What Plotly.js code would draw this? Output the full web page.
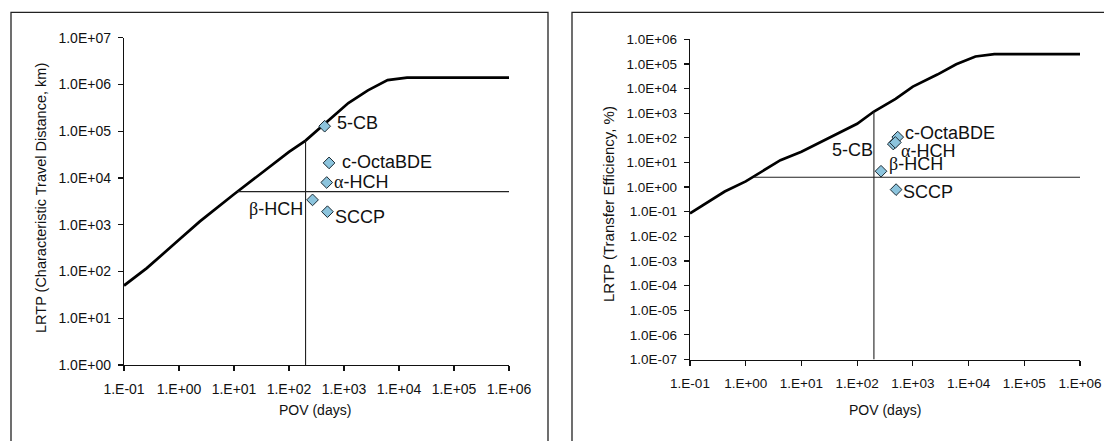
<!DOCTYPE html>
<html>
<head>
<meta charset="utf-8">
<script src="https://cdn.plot.ly/plotly-3.0.1.min.js"></script>
<style>
  html, body { margin: 0; padding: 0; background: #fff; }
  #chart { width: 1104px; height: 441px; }
</style>
</head>
<body>
<div id="chart"></div>
<script>
// Persistence (POV) versus long-range transport potential (LRTP) for five chemicals.

// Chemical names and their persistence, days
const chemicals = ['5-CB', 'c-OctaBDE', 'α-HCH', 'β-HCH', 'SCCP'];
const povDays = [445, 535, 485, 268, 500];

// LRTP as characteristic travel distance, km
const ctdKm = [1.28e5, 2.1e4, 8000, 3400, 1900];
// LRTP as transfer efficiency, %
const tePercent = [56, 107, 65, 4.4, 0.79];

// Reference (limit) curve: characteristic travel distance
const refPovCtd = [0.1, 0.26, 1, 2.4, 10, 19.5, 100, 200, 1200, 2720, 6200, 14000, 1e6];
const refCtd = [50, 118, 475, 1180, 4500, 8200, 36000, 63000, 4.0e5, 7.5e5, 1.24e6, 1.4e6, 1.4e6];

// Reference (limit) curve: transfer efficiency
const refPovTe = [0.1, 0.42, 1, 4.2, 10, 56, 100, 200, 490, 1000, 2750, 6000, 13300, 29000, 1e6];
const refTe = [0.085, 0.66, 1.7, 12.4, 27, 200, 370, 1170, 3800, 1.2e4, 3.7e4, 9.7e4, 2.0e5, 2.5e5, 2.5e5];

// Threshold lines (POV cut-off and LRTP cut-off)
const povCutoff = 200;
const ctdCutoff = 5100, ctdCutoffStart = 11.5, ctdAtCutoff = 63000;
const teCutoff = 2.5, teCutoffStart = 1.4, teAtCutoff = 1170;

// Tick labels
const povTicks = ['1.E-01', '1.E+00', '1.E+01', '1.E+02', '1.E+03', '1.E+04', '1.E+05', '1.E+06'];
const ctdTicks = ['1.0E+00', '1.0E+01', '1.0E+02', '1.0E+03', '1.0E+04', '1.0E+05', '1.0E+06', '1.0E+07'];
const teTicks = ['1.0E-07', '1.0E-06', '1.0E-05', '1.0E-04', '1.0E-03', '1.0E-02', '1.0E-01',
                 '1.0E+00', '1.0E+01', '1.0E+02', '1.0E+03', '1.0E+04', '1.0E+05', '1.0E+06'];

const FONT = 'Liberation Sans, Arial, sans-serif';
const INK = '#111';
const W = 1104, H = 441;
const px = v => v / W;
const py = v => 1 - v / H;

const greek = s => s.replace(/([αβ])/g, '<span style="font-family:Liberation Serif, serif">$1</span>');

const markerStyle = { symbol: 'diamond', size: 9, color: '#8cc4dd', line: { color: '#1b2a33', width: 1 } };

const traces = [
  // Left panel
  { x: refPovCtd, y: refCtd, xaxis: 'x', yaxis: 'y', mode: 'lines', line: { color: '#000', width: 2.7 }, hoverinfo: 'skip' },
  { x: [ctdCutoffStart, 1e6], y: [ctdCutoff, ctdCutoff], xaxis: 'x', yaxis: 'y', mode: 'lines', line: { color: '#222', width: 1.1 } },
  { x: [povCutoff, povCutoff], y: [1, ctdAtCutoff], xaxis: 'x', yaxis: 'y', mode: 'lines', line: { color: '#222', width: 1.1 } },
  { x: povDays, y: ctdKm, text: chemicals, xaxis: 'x', yaxis: 'y', mode: 'markers', marker: markerStyle },
  // Right panel
  { x: refPovTe, y: refTe, xaxis: 'x2', yaxis: 'y2', mode: 'lines', line: { color: '#000', width: 2.7 }, hoverinfo: 'skip' },
  { x: [teCutoffStart, 1e6], y: [teCutoff, teCutoff], xaxis: 'x2', yaxis: 'y2', mode: 'lines', line: { color: '#222', width: 1.1 } },
  { x: [povCutoff, povCutoff], y: [1e-7, teAtCutoff], xaxis: 'x2', yaxis: 'y2', mode: 'lines', line: { color: '#222', width: 1.1 } },
  { x: povDays, y: tePercent, text: chemicals, xaxis: 'x2', yaxis: 'y2', mode: 'markers', marker: markerStyle }
];

// Label placement around each marker: [xanchor, xshift, yshift]
const leftLabelPos = [['left', 10, 3], ['left', 11, 1], ['left', 5, 1], ['right', -8, -9], ['left', 6, -5]];
const rightLabelPos = [['right', -18, -6], ['left', 5, 4], ['left', 4, -9], ['left', 6, 7], ['left', 5, -2]];

const labelFont = { family: FONT, size: 18, color: INK };
const annotations = [];
chemicals.forEach((name, i) => {
  const [la, lx, ly] = leftLabelPos[i];
  annotations.push({ xref: 'x', yref: 'y', x: Math.log10(povDays[i]), y: Math.log10(ctdKm[i]),
    text: greek(name), showarrow: false, xanchor: la, yanchor: 'middle', xshift: lx, yshift: ly, font: labelFont });
  const [ra, rx, ry] = rightLabelPos[i];
  annotations.push({ xref: 'x2', yref: 'y2', x: Math.log10(povDays[i]), y: Math.log10(tePercent[i]),
    text: greek(name), showarrow: false, xanchor: ra, yanchor: 'middle', xshift: rx, yshift: ry, font: labelFont });
});

annotations.push(
  { xref: 'paper', yref: 'paper', x: px(41), y: py(198), text: 'LRTP (Characteristic Travel Distance, km)',
    textangle: -90, showarrow: false, xanchor: 'center', yanchor: 'middle', font: { family: FONT, size: 14.5, color: INK } },
  { xref: 'paper', yref: 'paper', x: px(315), y: py(410), text: 'POV (days)',
    showarrow: false, xanchor: 'center', yanchor: 'middle', font: { family: FONT, size: 14, color: INK } },
  { xref: 'paper', yref: 'paper', x: px(608), y: py(204), text: 'LRTP (Transfer Efficiency, %)',
    textangle: -90, showarrow: false, xanchor: 'center', yanchor: 'middle', font: { family: FONT, size: 15, color: INK } },
  { xref: 'paper', yref: 'paper', x: px(885), y: py(410), text: 'POV (days)',
    showarrow: false, xanchor: 'center', yanchor: 'middle', font: { family: FONT, size: 14, color: INK } }
);

const axisBase = {
  type: 'log', showline: true, linecolor: INK, linewidth: 1.2, mirror: false,
  ticks: 'outside', ticklen: 5, tickwidth: 1.2, tickcolor: INK,
  showgrid: false, zeroline: false, tickmode: 'array', fixedrange: true
};
const leftTickFont = { family: FONT, size: 14, color: INK };
const rightTickFont = { family: FONT, size: 13.5, color: INK };

const layout = {
  width: W, height: H,
  margin: { l: 0, r: 0, t: 0, b: 0 },
  paper_bgcolor: '#fff', plot_bgcolor: 'rgba(0,0,0,0)',
  showlegend: false,
  xaxis: Object.assign({}, axisBase, { domain: [px(124), px(509)], range: [-1, 6], anchor: 'y', tickfont: leftTickFont,
    tickvals: povTicks.map(Number), ticktext: povTicks, ticklabelstandoff: 6 }),
  yaxis: Object.assign({}, axisBase, { domain: [py(365), py(37.7)], range: [0, 7], anchor: 'x', tickfont: leftTickFont,
    tickvals: ctdTicks.map(Number), ticktext: ctdTicks, ticklabelstandoff: 4 }),
  xaxis2: Object.assign({}, axisBase, { domain: [px(690), px(1080)], range: [-1, 6], anchor: 'y2', tickfont: rightTickFont,
    tickvals: povTicks.map(Number), ticktext: povTicks, ticklabelstandoff: 6 }),
  yaxis2: Object.assign({}, axisBase, { domain: [py(359.5), py(39.3)], range: [-7, 6], anchor: 'x2', tickfont: rightTickFont,
    tickvals: teTicks.map(Number), ticktext: teTicks, ticklabelstandoff: 4 }),
  shapes: [
    { type: 'rect', xref: 'paper', yref: 'paper', x0: px(11), x1: px(548), y0: -0.05, y1: py(12.3),
      line: { color: '#222', width: 1.3 }, fillcolor: 'rgba(0,0,0,0)' },
    { type: 'rect', xref: 'paper', yref: 'paper', x0: px(572), x1: 1.05, y0: -0.05, y1: py(12.3),
      line: { color: '#222', width: 1.3 }, fillcolor: 'rgba(0,0,0,0)' }
  ],
  annotations: annotations
};

Plotly.newPlot('chart', traces, layout, { displayModeBar: false, staticPlot: true });
</script>
</body>
</html>
